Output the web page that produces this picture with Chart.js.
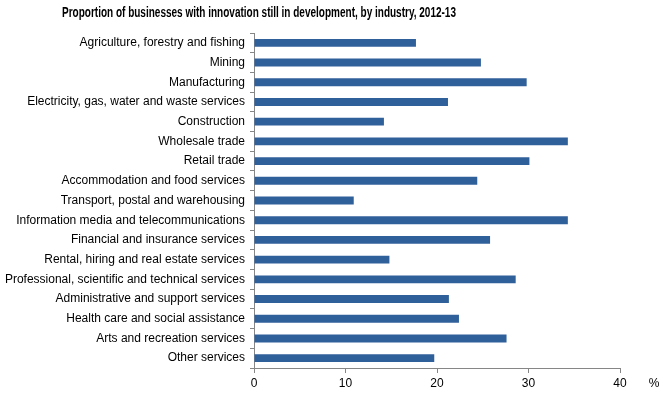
<!DOCTYPE html>
<html>
<head>
<meta charset="utf-8">
<script src="https://cdn.jsdelivr.net/npm/chart.js@4"></script>
<style>
  html, body { margin: 0; padding: 0; background: #fff; }
  #wrap { width: 668px; height: 395px; position: relative; }
</style>
</head>
<body>
<div id="wrap"><canvas id="canvas1"></canvas></div>
<script>
// industries, top to bottom
var industries = [
    'Agriculture, forestry and fishing',
    'Mining',
    'Manufacturing',
    'Electricity, gas, water and waste services',
    'Construction',
    'Wholesale trade',
    'Retail trade',
    'Accommodation and food services',
    'Transport, postal and warehousing',
    'Information media and telecommunications',
    'Financial and insurance services',
    'Rental, hiring and real estate services',
    'Professional, scientific and technical services',
    'Administrative and support services',
    'Health care and social assistance',
    'Arts and recreation services',
    'Other services'
];
// % of businesses with innovation still in development
var pctInDevelopment = [17.7, 24.8, 29.8, 21.2, 14.2, 34.3, 30.1, 24.4, 10.9, 34.3, 25.8, 14.8, 28.6, 21.3, 22.4, 27.6, 19.7];
var xTicks = [0, 10, 20, 30, 40];

var titleText = 'Proportion of businesses with innovation still in development, by industry, 2012-13';
var axisColor = '#868686';

// title + "%" unit label drawn on the canvas
var extraText = {
    id: 'extraText',
    afterDraw: function (chart) {
        var ctx = chart.ctx;
        ctx.save();
        ctx.fillStyle = '#000';
        ctx.font = 'bold 14px "Liberation Sans", Arial, sans-serif';
        ctx.textAlign = 'center';
        ctx.textBaseline = 'middle';
        // the original title is set in a narrow font, so squeeze it to the same width
        var w = ctx.measureText(titleText).width;
        var sx = Math.min(1, 394 / w);
        ctx.translate(259, 13);
        ctx.scale(sx, 1);
        ctx.fillText(titleText, 0, 0);
        ctx.restore();

        ctx.save();
        ctx.fillStyle = '#000';
        ctx.font = '12px "Liberation Sans", Arial, sans-serif';
        ctx.textAlign = 'center';
        ctx.textBaseline = 'middle';
        ctx.fillText('%', 654, 384);
        ctx.restore();
    }
};

var ctx1 = document.getElementById('canvas1').getContext('2d');
window.myBar = new Chart(ctx1, {
    type: 'bar',
    data: {
        labels: industries,
        datasets: [{
            label: 'Proportion',
            backgroundColor: '#30609A',
            borderWidth: 0,
            barPercentage: 0.4,
            categoryPercentage: 1,
            data: pctInDevelopment
        }]
    },
    plugins: [extraText],
    options: {
        indexAxis: 'y',
        responsive: true,
        maintainAspectRatio: false,
        animation: false,
        layout: {
            padding: { left: 4, right: 48, top: 33, bottom: 5 }
        },
        plugins: {
            legend: { display: false },
            title: { display: false },
            tooltip: { enabled: false }
        },
        scales: {
            y: {
                offset: true,
                grid: {
                    offset: true,
                    drawOnChartArea: false,
                    tickLength: 4,
                    color: axisColor
                },
                border: { color: axisColor },
                ticks: {
                    color: '#000',
                    padding: 5,
                    autoSkip: false,
                    font: { family: '"Liberation Sans", Arial, sans-serif', size: 12 }
                },
                afterFit: function (scale) { scale.width = 250; }
            },
            x: {
                min: 0,
                max: 40,
                afterBuildTicks: function (scale) {
                    scale.ticks = xTicks.map(function (v) { return { value: v }; });
                },
                grid: {
                    drawOnChartArea: false,
                    tickLength: 5,
                    color: axisColor
                },
                border: { color: axisColor },
                ticks: {
                    color: '#000',
                    padding: 3,
                    font: { family: '"Liberation Sans", Arial, sans-serif', size: 12 }
                },
                afterFit: function (scale) { scale.height = 22; }
            }
        }
    }
});
</script>
</body>
</html>
